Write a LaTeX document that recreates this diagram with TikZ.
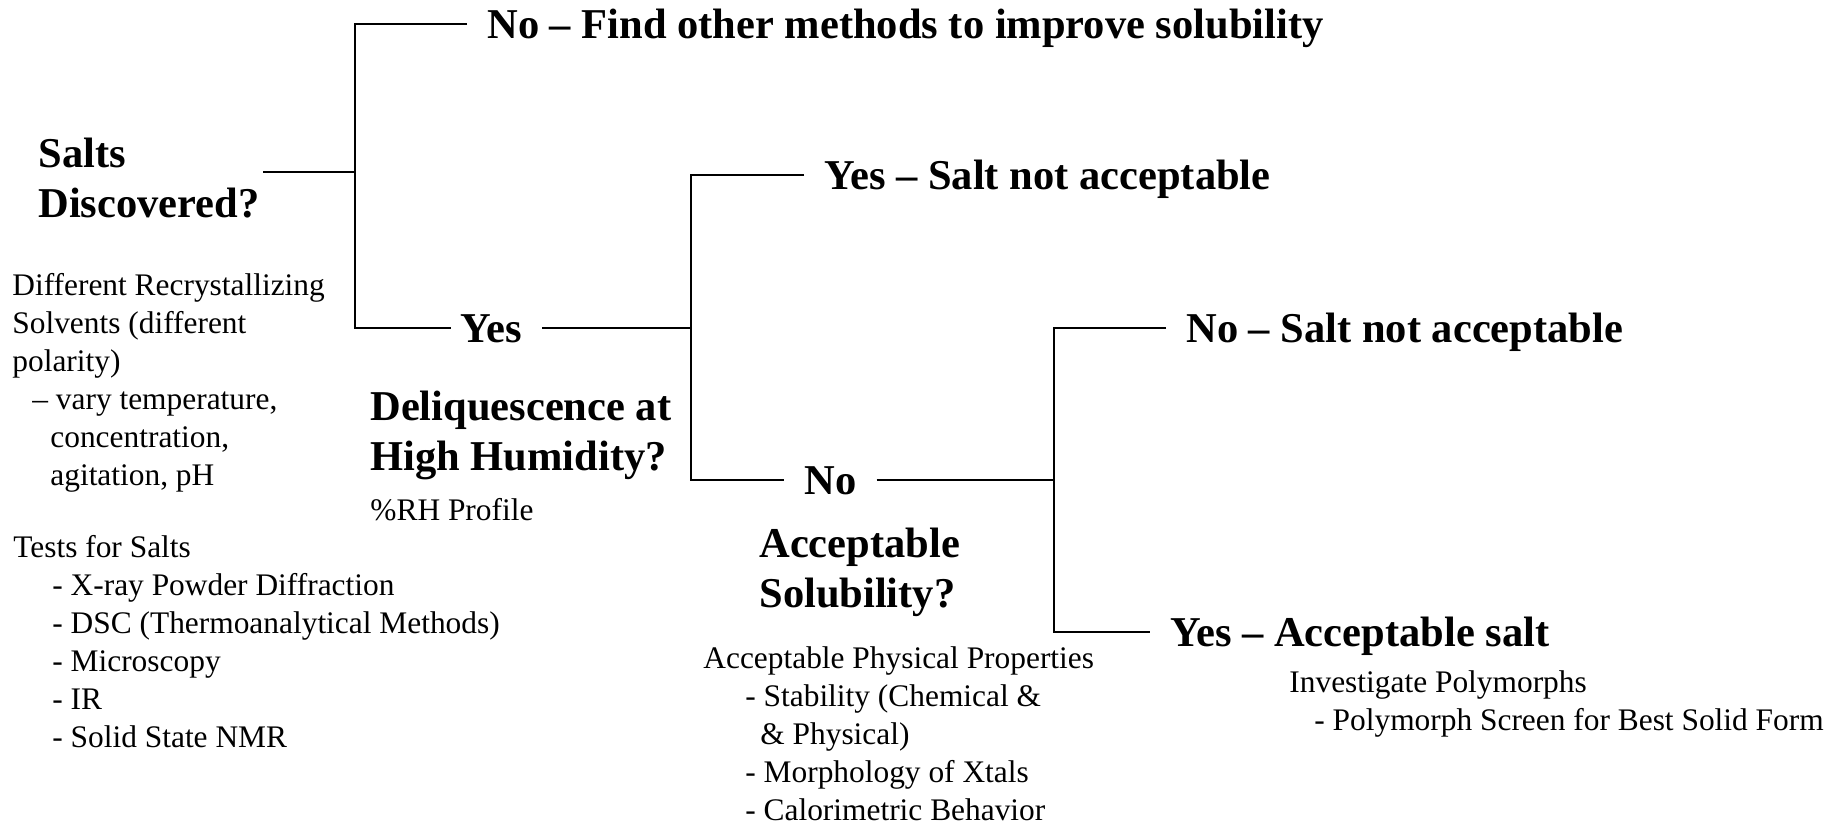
\documentclass[tikz,border=0pt]{standalone}
\usepackage{fontspec}
\setmainfont{Liberation Serif}
\begin{document}
\begin{tikzpicture}[x=0.5pt,y=-0.5pt,
  question/.style={font=\fontsize{21.25pt}{25pt}\selectfont\bfseries, align=left, inner sep=0pt, anchor=base west},
  answer/.style={font=\fontsize{21.25pt}{25pt}\selectfont\bfseries, inner xsep=10pt, inner ysep=0pt, text height=14pt, text depth=0pt, anchor=west},
  note/.style={font=\fontsize{15.7pt}{19pt}\selectfont, align=left, inner sep=0pt, anchor=base west},
  branch/.style={line width=0.8pt}]
%\draw[step=100,gray,very thin] (0,0) grid (1844,826);
\useasboundingbox (0,0) rectangle (1844,826);

% questions (base = last line)
\node[question] (salts) at (38,217) {Salts\\Discovered?};
\node[question] (deliq) at (370,470) {Deliquescence at\\High Humidity?};
\node[question] (solub) at (759,607) {Acceptable\\Solubility?};

% notes under the questions
\node[note] (solvents) at (12,485) {Different Recrystallizing\\Solvents (different\\polarity)\\\hspace*{10pt}– vary temperature,\\\hspace*{19pt}concentration,\\\hspace*{19pt}agitation, pH};
\node[note] (tests) at (13,747) {Tests for Salts\\\hspace*{19.5pt}- X-ray Powder Diffraction\\\hspace*{19.5pt}- DSC (Thermoanalytical Methods)\\\hspace*{19.5pt}- Microscopy\\\hspace*{19.5pt}- IR\\\hspace*{19.5pt}- Solid State NMR};
\node[note] (rh) at (370,520) {\%RH Profile};
\node[note] (props) at (703,820) {Acceptable Physical Properties\\\hspace*{21pt}- Stability (Chemical \&\\\hspace*{28.5pt}\& Physical)\\\hspace*{21pt}- Morphology of Xtals\\\hspace*{21pt}- Calorimetric Behavior};
\node[note] (poly) at (1289,730) {Investigate Polymorphs\\\hspace*{12.5pt}- Polymorph Screen for Best Solid Form};

% answers
\node[answer] (nofind) at (467,24)  {No – Find other methods to improve solubility};
\node[answer] (yes1)   at (440,328) {Yes};
\node[answer] (yesnot) at (804,175) {Yes – Salt not acceptable};
\node[answer] (no2)    at (784,480) {No};
\node[answer] (nonot)  at (1166,328) {No – Salt not acceptable};
\node[answer] (yesacc) at (1150,632) {Yes – Acceptable salt};

% brackets
\coordinate (s1) at (263,172);
\coordinate (j1) at (355,172);
\coordinate (j2) at (691,328);
\coordinate (j3) at (1054,480);

\draw[branch] (s1) -- (j1);
\draw[branch] (nofind.west) -| (j1) |- ([xshift=5.5pt]yes1.west);
\draw[branch] (yes1.east) -- (j2);
\draw[branch] (yesnot.west) -| (j2) |- (no2.west);
\draw[branch] (no2.east) -- (j3);
\draw[branch] (nonot.west) -| (j3) |- (yesacc.west);

\end{tikzpicture}
\end{document}
